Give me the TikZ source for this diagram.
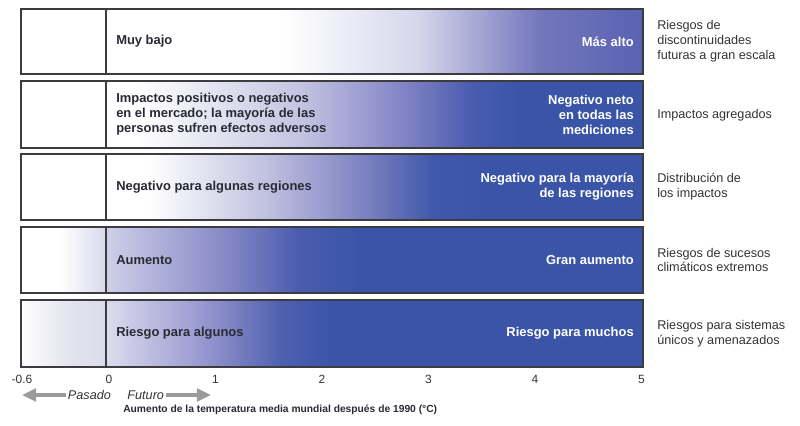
\documentclass[tikz,border=0pt]{standalone}
\usepackage{fontspec}
\setmainfont{Liberation Sans}
\usetikzlibrary{arrows.meta}

\definecolor{emb-line}{HTML}{3C3C40}
\definecolor{emb-text}{HTML}{2A2A34}
\definecolor{emb-grey}{HTML}{333333}
\definecolor{emb-arrow}{HTML}{9A9A9A}
\definecolor{emb-blue}{HTML}{3A55A8}
\definecolor{emb-top}{HTML}{5A62B2}
\definecolor{emb-a1}{HTML}{D6D6EC}
\definecolor{emb-a2}{HTML}{7276BC}
\definecolor{emb-b1}{HTML}{C4C4E2}
\definecolor{emb-b2}{HTML}{8486C6}
\definecolor{emb-b3}{HTML}{4A5CAE}
\definecolor{emb-c1}{HTML}{C0C0E0}
\definecolor{emb-c2}{HTML}{7A80C0}
\definecolor{emb-c3}{HTML}{4058AA}
\definecolor{emb-d0}{HTML}{CFCFE8}
\definecolor{emb-d1}{HTML}{8A8CC8}
\definecolor{emb-e0}{HTML}{DCDCEE}
\definecolor{emb-e1}{HTML}{9A9AD0}
\definecolor{emb-e2}{HTML}{5060B0}
\definecolor{emb-l4}{HTML}{D8D8EC}
\definecolor{emb-l5a}{HTML}{E6E6F0}
\definecolor{emb-l5b}{HTML}{DADAEA}

\pgfdeclarehorizontalshading{emberA}{100bp}{color(0bp)=(white); color(41.5bp)=(white);
  color(54bp)=(emb-a1); color(65.5bp)=(emb-a2); color(75bp)=(emb-top); color(100bp)=(emb-top)}
\pgfdeclarehorizontalshading{emberB}{100bp}{color(0bp)=(white); color(28bp)=(white);
  color(43bp)=(emb-b1); color(52.4bp)=(emb-b2); color(59bp)=(emb-b3); color(63.5bp)=(emb-blue); color(100bp)=(emb-blue)}
\pgfdeclarehorizontalshading{emberC}{100bp}{color(0bp)=(white); color(29bp)=(white);
  color(40bp)=(emb-c1); color(49.3bp)=(emb-c2); color(55.5bp)=(emb-c3); color(60bp)=(emb-blue); color(100bp)=(emb-blue)}
\pgfdeclarehorizontalshading{emberD}{100bp}{color(0bp)=(emb-d0); color(25bp)=(emb-d0);
  color(35.6bp)=(emb-d1); color(43bp)=(emb-b3); color(48.6bp)=(emb-blue); color(100bp)=(emb-blue)}
\pgfdeclarehorizontalshading{emberE}{100bp}{color(0bp)=(emb-e0); color(25bp)=(emb-e0);
  color(33.7bp)=(emb-e1); color(41.2bp)=(emb-e2); color(45.9bp)=(emb-blue); color(100bp)=(emb-blue)}
\pgfdeclarehorizontalshading{pastD}{100bp}{color(0bp)=(white); color(48bp)=(white);
  color(75bp)=(emb-l4); color(100bp)=(emb-l4)}
\pgfdeclarehorizontalshading{pastE}{100bp}{color(0bp)=(white); color(25bp)=(white);
  color(50bp)=(emb-l5a); color(75bp)=(emb-l5b); color(100bp)=(emb-l5b)}

\begin{document}
\begin{tikzpicture}[x=0.025cm, y=-0.025cm]
    \def\xl{21}
    \def\xm{106}
    \def\xr{643}

    \tikzset{
      rowframe/.style={
        draw=emb-line,
        line width=1.3pt
      },
      lowtxt/.style={
        font=\fontsize{9.2}{10.6}\selectfont\bfseries,
        text=emb-text,
        align=left,
        anchor=west,
        inner sep=0pt
      },
      hightxt/.style={
        lowtxt,
        text=white,
        align=right,
        anchor=east
      },
      cattxt/.style={
        font=\fontsize{9}{10.6}\selectfont,
        text=emb-grey,
        align=left,
        anchor=west,
        inner sep=0pt
      },
      ticklab/.style={
        font=\fontsize{8.5}{10}\selectfont,
        text=emb-grey,
        inner sep=0pt
      },
      timetxt/.style={
        font=\fontsize{9}{10}\selectfont\itshape,
        text=emb-grey,
        inner sep=1.2pt
      },
      timearrow/.style={
        draw=emb-arrow,
        line width=2.8pt,
        -{Triangle[length=10pt, width=9pt]}
      },
      axistitle/.style={
        font=\fontsize{7.3}{9}\selectfont\bfseries,
        text=emb-text,
        anchor=west,
        inner sep=0pt
      }
    }

    \useasboundingbox (0,0) rectangle (800,426);

    \shade[shading=emberA] (\xm,9) rectangle (\xr,74);
    \draw[rowframe] (\xl,9) rectangle (\xr,74) (\xm,9) -- (\xm,74);

    \shade[shading=emberB] (\xm,81) rectangle (\xr,148);
    \draw[rowframe] (\xl,81) rectangle (\xr,148) (\xm,81) -- (\xm,148);

    \shade[shading=emberC] (\xm,154) rectangle (\xr,220);
    \draw[rowframe] (\xl,154) rectangle (\xr,220) (\xm,154) -- (\xm,220);

    \shade[shading=pastD] (\xl,227) rectangle (\xm,293);
    \shade[shading=emberD] (\xm,227) rectangle (\xr,293);
    \draw[rowframe] (\xl,227) rectangle (\xr,293) (\xm,227) -- (\xm,293);

    \shade[shading=pastE] (\xl,300) rectangle (\xm,367);
    \shade[shading=emberE] (\xm,300) rectangle (\xr,367);
    \draw[rowframe] (\xl,300) rectangle (\xr,367) (\xm,300) -- (\xm,367);

    \node[lowtxt] (low1) at (116,41.5) {Muy bajo};
    \node[hightxt] (high1) at (634,41.5) {Más alto};
    \node[cattxt] (cat1) at (657,41.5) {Riesgos de\\discontinuidades\\futuras a gran escala};

    \node[lowtxt] (low2) at (116,114.5) {Impactos positivos o negativos\\en el mercado; la mayoría de las\\personas sufren efectos adversos};
    \node[hightxt] (high2) at (634,114.5) {Negativo neto\\en todas las\\mediciones};
    \node[cattxt] (cat2) at (657,115) {Impactos agregados};

    \node[lowtxt] (low3) at (116,187) {Negativo para algunas regiones};
    \node[hightxt] (high3) at (634,187) {Negativo para la mayoría\\de las regiones};
    \node[cattxt] (cat3) at (657,187) {Distribución de\\los impactos};

    \node[lowtxt] (low4) at (116,260) {Aumento};
    \node[hightxt] (high4) at (634,260) {Gran aumento};
    \node[cattxt] (cat4) at (657,260) {Riesgos de sucesos\\climáticos extremos};

    \node[lowtxt] (low5) at (116,333.5) {Riesgo para algunos};
    \node[hightxt] (high5) at (634,333.5) {Riesgo para muchos};
    \node[cattxt] (cat5) at (657,333.5) {Riesgos para sistemas\\únicos y amenazados};

    \node[ticklab] (tickm) at (22,379) {-0.6};
    \foreach \k in {0,...,5}
      \node[ticklab] (tick\k) at ({109+106.5*\k},379) {\k};

    \node[timetxt, anchor=west] (pasado) at (66,395) {Pasado};
    \coordinate (pastend) at (22,395);
    \draw[timearrow] (pasado.west) -- (pastend);

    \node[timetxt, anchor=east] (futuro) at (166,395) {Futuro};
    \coordinate (futend) at (211,395);
    \draw[timearrow] (futuro.east) -- (futend);

    \node[axistitle] (xtitle) at (123,410) {Aumento de la temperatura media mundial después de 1990 (°C)};
\end{tikzpicture}
\end{document}
